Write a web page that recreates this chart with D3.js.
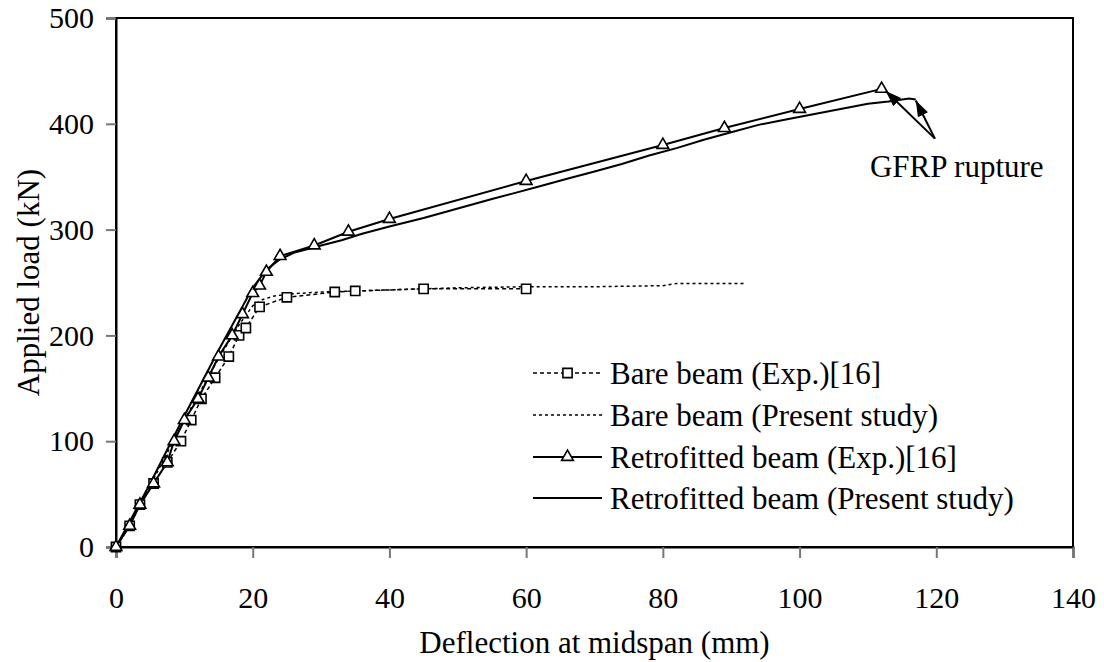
<!DOCTYPE html>
<html><head><meta charset="utf-8">
<script src="https://cdn.jsdelivr.net/npm/d3@7"></script>
<style>body{margin:0;background:#fff}svg text{font-family:"Liberation Serif","Times New Roman",serif;fill:#000}</style>
</head><body><svg id="c" width="1104" height="662"></svg>
<script>
// Data (deflection mm, load kN)
const bareExpX = [0,2,3.5,5.5,7.5,9.5,11,12.5,14.5,16.5,18,19,21,25,32,35,45,60];
const bareExpY = [0,20,40,60,80,100,120,140,160,180,200,207,227,236,241,242,244,244];
const barePresX = [0,5,10,15,18,20,21.5,23,25,30,40,50,60,70,80,82,92];
const barePresY = [0,58,120,178,210,228,234,237,239,241,243,245,246,246,247,249,249];
const retExpX = [0,2,3.5,5.5,7.5,8.5,10,12,13.5,15,17,18.5,20,21,22,24,29,34,40,60,80,89,100,112];
const retExpY = [0,20,40,60,80,100,120,140,160,180,200,220,240,247,260,275,285,298,310,346,380,396,414,433];
const retPresX = [0,5,10,15,20,22,24,26,30,33,36,40,45,50,55,58,62,66,70,74,78,82,86,90,94,98,102,106,110,113,116,117];
const retPresY = [0,60,124,186,245,262,272,278,285,290,296,303,311,320,329,334,341,348,355,362,370,377,385,392,399,404,409,414,419,421,424,423];
const xTicks = [0,20,40,60,80,100,120,140];
const yTicks = [0,100,200,300,400,500];
const legendLabels = ["Bare beam (Exp.)[16]","Bare beam (Present study)","Retrofitted beam (Exp.)[16]","Retrofitted beam (Present study)"];
const annoText = "GFRP rupture";
const annoTail = [119.8,386];
const annoHeads = [[112.6,431],[117,422]];
const annoTextPos = [110.3,350];

const svg = d3.select("#c");
const L=116, R=1073, T=18, B=547;
const x = d3.scaleLinear().domain([0,140]).range([L,R]);
const y = d3.scaleLinear().domain([0,500]).range([B,T]);
const zip=(a,b)=>a.map((v,i)=>[v,b[i]]);

// frame
svg.append("rect").attr("x",L).attr("y",T).attr("width",R-L).attr("height",B-T).attr("fill","none").attr("stroke","#000").attr("stroke-width",2);

// axes
const fs=30, ft=31;
const gx = svg.append("g").attr("transform",`translate(0,${B})`).call(d3.axisBottom(x).tickValues(xTicks).tickSize(11).tickPadding(29).tickFormat(d3.format("d")));
const gy = svg.append("g").attr("transform",`translate(${L},0)`).call(d3.axisLeft(y).tickValues(yTicks).tickSize(10).tickPadding(12).tickFormat(d3.format("d")));
[gx,gy].forEach(g=>{g.select(".domain").attr("stroke","#000").attr("stroke-width",2);
  g.selectAll(".tick line").attr("stroke","#777").attr("stroke-width",2);
  g.selectAll(".tick text").attr("font-size",fs).attr("font-family","Liberation Serif").attr("fill","#000");});

svg.append("text").attr("x",(L+R)/2).attr("y",653).attr("text-anchor","middle").attr("font-size",ft).text("Deflection at midspan (mm)");
svg.append("text").attr("transform",`translate(39,${(T+B)/2}) rotate(-90)`).attr("text-anchor","middle").attr("font-size",ft).text("Applied load (kN)");

const line = d3.line().x(d=>x(d[0])).y(d=>y(d[1]));
svg.append("path").datum(zip(barePresX,barePresY)).attr("d",line).attr("fill","none").attr("stroke","#000").attr("stroke-width",1.5).attr("stroke-dasharray","3,3");
svg.append("path").datum(zip(bareExpX,bareExpY)).attr("d",line).attr("fill","none").attr("stroke","#000").attr("stroke-width",1.5).attr("stroke-dasharray","4,3");
svg.append("path").datum(zip(retPresX,retPresY)).attr("d",line).attr("fill","none").attr("stroke","#000").attr("stroke-width",2);
svg.append("path").datum(zip(retExpX,retExpY)).attr("d",line).attr("fill","none").attr("stroke","#000").attr("stroke-width",2);

const sq = d3.symbol().type(d3.symbolSquare).size(85);
const tri = d3.symbol().type(d3.symbolTriangle).size(60);
svg.append("g").selectAll("path").data(zip(bareExpX,bareExpY)).join("path").attr("d",sq)
  .attr("transform",d=>`translate(${x(d[0])},${y(d[1])})`).attr("fill","#fff").attr("stroke","#000").attr("stroke-width",1.6);
svg.append("g").selectAll("path").data(zip(retExpX,retExpY)).join("path").attr("d",tri)
  .attr("transform",d=>`translate(${x(d[0])},${y(d[1])})`).attr("fill","#fff").attr("stroke","#000").attr("stroke-width",1.6);

// legend
const lg = svg.append("g");
const rowY = [373,415,457,498], lx0=533, lx1=602;
legendLabels.forEach((t,i)=>{
  const ly=rowY[i];
  const ln=lg.append("line").attr("x1",lx0).attr("x2",lx1).attr("y1",ly).attr("y2",ly).attr("stroke","#000");
  if(i<2){ln.attr("stroke-width",1.5).attr("stroke-dasharray",i==0?"4,3":"3,3");} else ln.attr("stroke-width",2);
  if(i==0) lg.append("path").attr("d",sq).attr("transform",`translate(${(lx0+lx1)/2},${ly})`).attr("fill","#fff").attr("stroke","#000").attr("stroke-width",1.6);
  if(i==2) lg.append("path").attr("d",tri).attr("transform",`translate(${(lx0+lx1)/2},${ly})`).attr("fill","#fff").attr("stroke","#000").attr("stroke-width",1.6);
  lg.append("text").attr("x",610).attr("y",ly).attr("dy","0.35em").attr("font-size",31).text(t);
});

// annotation
svg.append("defs").append("marker").attr("id","ah").attr("viewBox","0 0 10 10").attr("refX",10).attr("refY",5)
  .attr("markerWidth",8).attr("markerHeight",8).attr("orient","auto").append("path").attr("d","M0,1.5L10,5L0,8.5Z").attr("fill","#000");
annoHeads.forEach(h=>{
  svg.append("line").attr("x1",x(annoTail[0])).attr("y1",y(annoTail[1])).attr("x2",x(h[0])).attr("y2",y(h[1]))
    .attr("stroke","#000").attr("stroke-width",2).attr("marker-end","url(#ah)");
});
svg.append("text").attr("x",x(annoTextPos[0])).attr("y",y(annoTextPos[1])).attr("font-size",31).text(annoText);
</script></body></html>
